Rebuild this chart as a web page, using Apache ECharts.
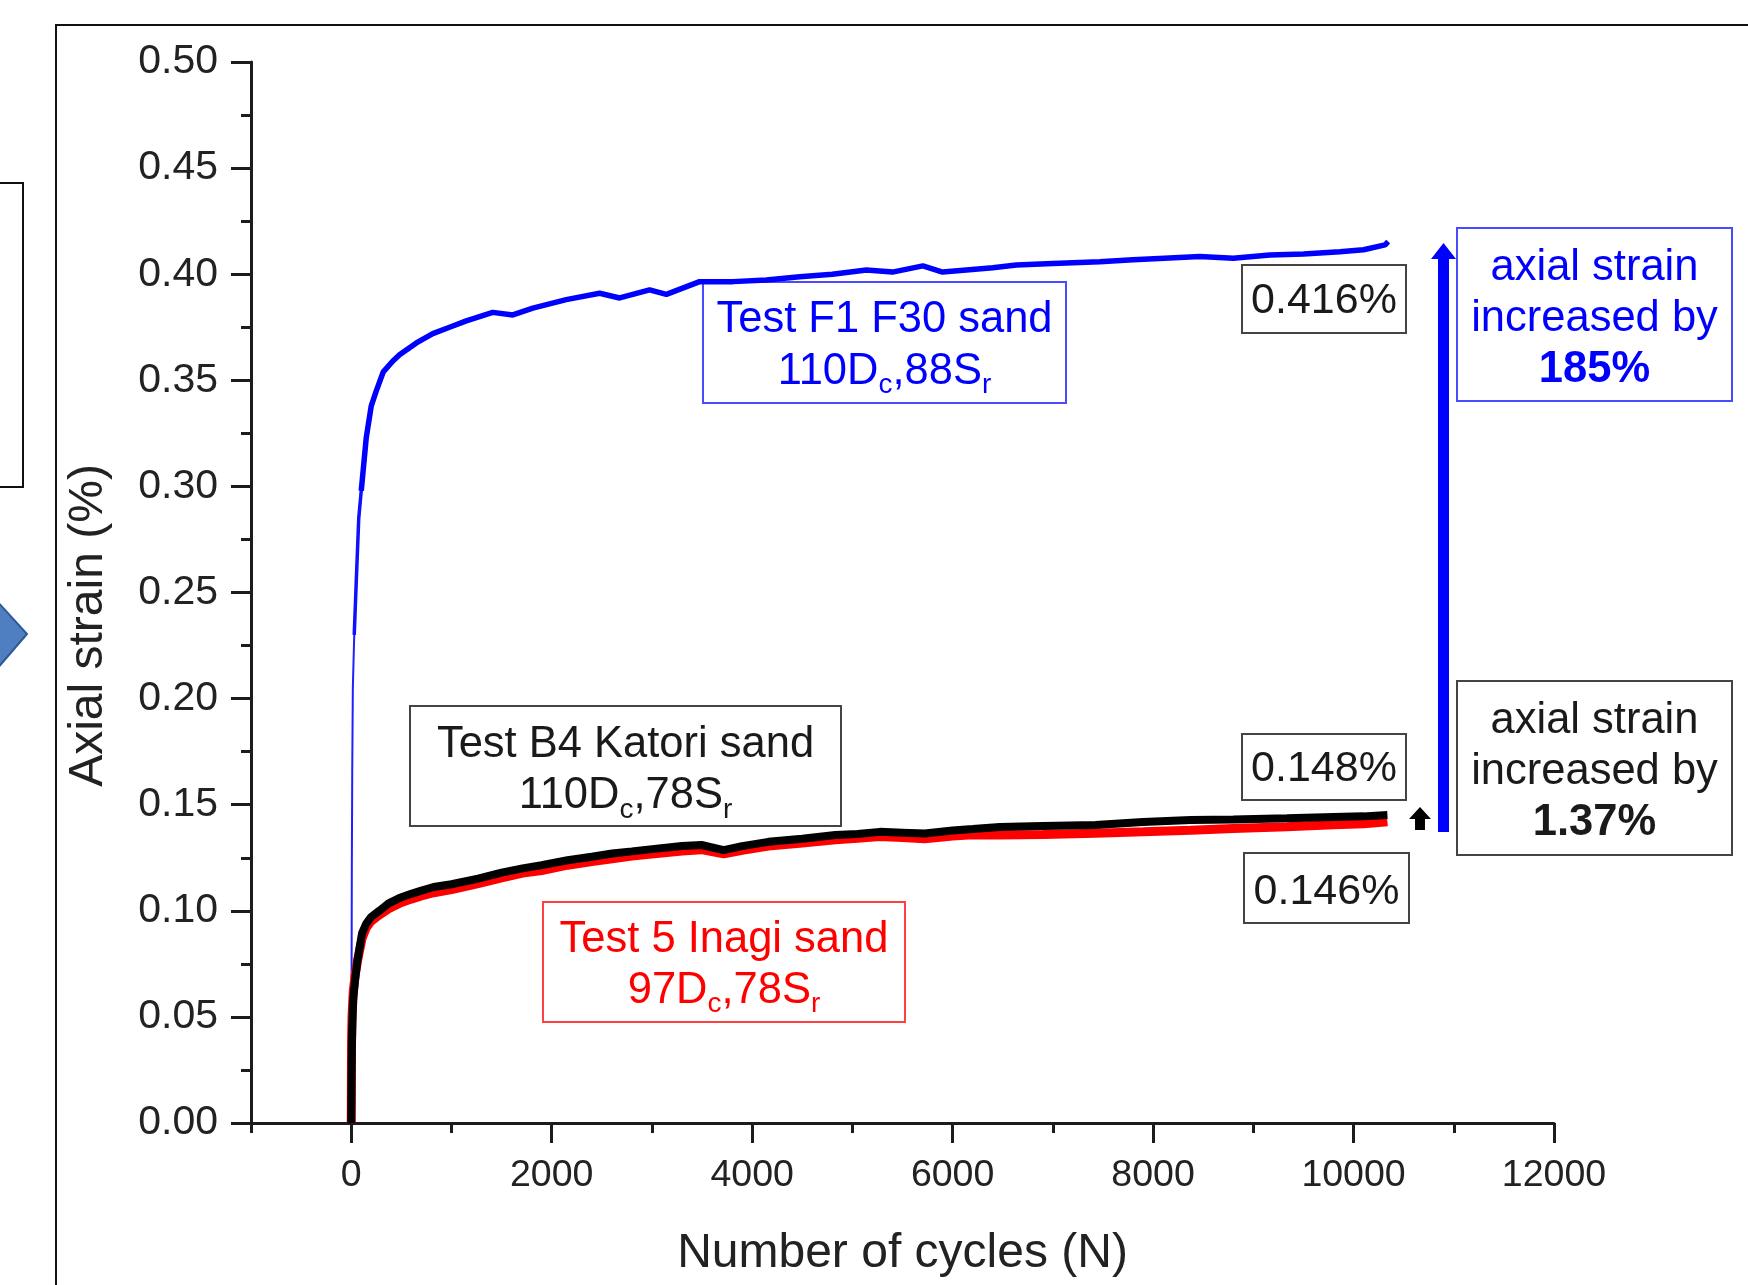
<!DOCTYPE html>
<html>
<head>
<meta charset="utf-8">
<script src="https://cdn.jsdelivr.net/npm/echarts@6/dist/echarts.min.js"></script>
<style>
html,body{margin:0;padding:0;background:#fff;}
#chart{width:1748px;height:1285px;}
</style>
</head>
<body>
<div id="chart"></div>
<script>
// ---------- data ----------
const xTickValues = [0, 2000, 4000, 6000, 8000, 10000, 12000];
const xMinorTickValues = [-1000, 1000, 3000, 5000, 7000, 9000, 11000];
const yMin = 0, yMax = 0.5, yStep = 0.05;
const xMin = -1000, xMax = 12000;

// Test F1 F30 sand (blue)
const f30Cycles = [0, 3, 6, 10, 16, 30, 50, 75, 100, 150, 200, 250, 320, 413, 482, 650, 814, 981, 1148, 1412, 1612, 1812, 2145, 2478, 2678, 2977, 3144, 3476, 3808, 4142, 4474, 4800, 5140, 5400, 5703, 5900, 6138, 6400, 6637, 7000, 7468, 7800, 8061, 8466, 8800, 9165, 9500, 9863, 10100, 10315, 10345];
const f30Strain = [0, 0.06, 0.12, 0.165, 0.205, 0.23, 0.255, 0.285, 0.298, 0.323, 0.338, 0.345, 0.354, 0.359, 0.362, 0.3676, 0.372, 0.375, 0.378, 0.382, 0.3808, 0.384, 0.388, 0.391, 0.3888, 0.3926, 0.3905, 0.3965, 0.3965, 0.3973, 0.3988, 0.400, 0.402, 0.401, 0.4039, 0.401, 0.402, 0.403, 0.4043, 0.405, 0.4059, 0.4068, 0.4074, 0.4083, 0.4075, 0.409, 0.4095, 0.4106, 0.4115, 0.4138, 0.4153];

// Test B4 Katori sand (black)
const katoriCycles = [0, 5, 10, 19, 40, 63, 108, 150, 197, 280, 373, 480, 598, 700, 822, 1000, 1266, 1500, 1710, 1900, 2158, 2400, 2603, 2800, 3048, 3300, 3494, 3716, 3900, 4162, 4500, 4830, 5050, 5274, 5500, 5722, 6000, 6200, 6470, 6900, 7425, 7900, 8377, 8800, 9335, 9800, 10100, 10338];
const katoriStrain = [0, 0.03, 0.045, 0.058, 0.068, 0.0768, 0.0895, 0.094, 0.097, 0.100, 0.1035, 0.106, 0.108, 0.1095, 0.1112, 0.1125, 0.1152, 0.118, 0.120, 0.1215, 0.1238, 0.1255, 0.127, 0.128, 0.1293, 0.1305, 0.131, 0.1286, 0.1305, 0.1325, 0.134, 0.1357, 0.1362, 0.1372, 0.1368, 0.1364, 0.1378, 0.1385, 0.1395, 0.140, 0.1404, 0.1418, 0.1428, 0.143, 0.1436, 0.1442, 0.1445, 0.1451];

// Test 5 Inagi sand (red)
const inagiCycles = [0, 3, 8, 20, 40, 63, 108, 150, 197, 280, 373, 480, 598, 700, 822, 1000, 1266, 1500, 1710, 1900, 2158, 2400, 2603, 2800, 3048, 3300, 3494, 3716, 3900, 4162, 4500, 4830, 5050, 5274, 5500, 5722, 6000, 6200, 6470, 6900, 7425, 7900, 8377, 8800, 9335, 9800, 10100, 10338];
const inagiStrain = [0, 0.038, 0.05, 0.062, 0.07, 0.0765, 0.087, 0.092, 0.095, 0.098, 0.101, 0.1035, 0.1055, 0.107, 0.1085, 0.110, 0.1128, 0.1155, 0.1178, 0.119, 0.1215, 0.1232, 0.1245, 0.1258, 0.127, 0.1282, 0.1288, 0.1268, 0.1285, 0.1305, 0.132, 0.1335, 0.1342, 0.135, 0.1345, 0.134, 0.1352, 0.1358, 0.1357, 0.136, 0.1366, 0.1372, 0.138, 0.1388, 0.1396, 0.1405, 0.141, 0.142];

// ---------- build ----------
const FONT = '"Liberation Sans", Arial, Helvetica, sans-serif';
const pairs = (xs, ys) => xs.map((x, i) => [x, ys[i]]);
const f30Data = pairs(f30Cycles, f30Strain);
const f30Mid = f30Data.filter(d => d[0] >= 30);
const f30Thick = f30Data.filter(d => d[0] >= 100);
const katoriData = pairs(katoriCycles, katoriStrain);
const inagiData = pairs(inagiCycles, inagiStrain);

const AXIS_COLOR = '#1c1c1c';

function richFor(fs) {
  return {
    sub: { fontSize: 28, fontFamily: FONT, lineHeight: 20, padding: [28, 0, 0, 0] },
    b: { fontSize: fs, fontFamily: FONT, fontWeight: 'bold', lineHeight: 51 }
  };
}

function box(x, y, w, h, stroke, text, tx, ty, color, lh, fs) {
  const size = fs || 43.5;
  return {
    type: 'group',
    children: [
      { type: 'rect', shape: { x: x, y: y, width: w, height: h },
        style: { fill: null, stroke: stroke, lineWidth: 2 } },
      { type: 'text', x: tx, y: ty,
        style: { text: text, fontSize: size, fontFamily: FONT, fill: color,
                 align: 'center', verticalAlign: 'middle', lineHeight: lh || 51,
                 rich: richFor(size) } }
    ]
  };
}

const chart = echarts.init(document.getElementById('chart'), null, { renderer: 'canvas' });

const option = {
  animation: false,
  backgroundColor: '#fff',
  grid: { left: 251, top: 62, width: 1303, height: 1061, containLabel: false, outerBoundsMode: 'none' },
  xAxis: [
    {
      type: 'value', min: xMin, max: xMax, position: 'bottom',
      axisLine: { show: true, onZero: false, lineStyle: { color: AXIS_COLOR, width: 3 } },
      axisTick: { show: true, length: 20, inside: false, customValues: xTickValues,
                  lineStyle: { color: AXIS_COLOR, width: 3 } },
      axisLabel: { show: true, customValues: xTickValues, margin: 34, fontSize: 37.5,
                   fontFamily: FONT, color: '#222', formatter: v => String(v) },
      splitLine: { show: false },
      name: 'Number of cycles (N)', nameLocation: 'middle', nameGap: 107,
      nameTextStyle: { fontSize: 48, fontFamily: FONT, color: '#222' }
    },
    {
      type: 'value', min: xMin, max: xMax, position: 'bottom', gridIndex: 0,
      axisLine: { show: false, onZero: false },
      axisTick: { show: true, length: 10, customValues: xMinorTickValues,
                  lineStyle: { color: AXIS_COLOR, width: 3 } },
      axisLabel: { show: false },
      splitLine: { show: false }
    }
  ],
  yAxis: {
    type: 'value', min: yMin, max: yMax, interval: yStep,
    axisLine: { show: true, onZero: false, lineStyle: { color: AXIS_COLOR, width: 3 } },
    axisTick: { show: true, length: 20, lineStyle: { color: AXIS_COLOR, width: 3 } },
    minorTick: { show: true, splitNumber: 2, length: 10, lineStyle: { color: AXIS_COLOR, width: 3 } },
    axisLabel: { margin: 33, fontSize: 41, fontFamily: FONT, color: '#222',
                 formatter: v => v.toFixed(2) },
    splitLine: { show: false },
    minorSplitLine: { show: false },
    name: 'Axial strain (%)', nameLocation: 'middle', nameGap: 138,
    nameTextStyle: { fontSize: 48, fontFamily: FONT, color: '#222', padding: [0, 66, 0, 0] }
  },
  series: [
    { name: 'F30 rise', type: 'line', data: f30Data, showSymbol: false, xAxisIndex: 0,
      lineStyle: { color: '#2020ff', width: 2 }, z: 3 },
    { name: 'F30 knee', type: 'line', data: f30Mid, showSymbol: false, xAxisIndex: 0,
      lineStyle: { color: '#1010ff', width: 3.5 }, z: 3 },
    { name: 'Test F1 F30 sand', type: 'line', data: f30Thick, showSymbol: false, xAxisIndex: 0,
      lineStyle: { color: '#0000ff', width: 5.5 }, z: 3 },
    { name: 'Test 5 Inagi sand', type: 'line', data: inagiData, showSymbol: false, xAxisIndex: 0,
      lineStyle: { color: '#ff0000', width: 9 }, z: 4 },
    { name: 'Test B4 Katori sand', type: 'line', data: katoriData, showSymbol: false, xAxisIndex: 0,
      lineStyle: { color: '#000000', width: 8 }, z: 5 }
  ],
  graphic: [
    // outer frame and left-side fragments of the slide
    { type: 'polyline', shape: { points: [[56, 1290], [56, 25], [1760, 25]] },
      style: { stroke: '#111', lineWidth: 2, fill: null } },
    { type: 'rect', shape: { x: -10, y: 183, width: 33, height: 304 },
      style: { stroke: '#111', lineWidth: 2, fill: null } },
    { type: 'polygon', shape: { points: [[-4, 600], [27, 634], [-4, 670]] },
      style: { fill: '#4f7fc0', stroke: '#2d5a94', lineWidth: 2 } },

    // annotation boxes
    box(703, 282, 363, 121, '#4a4aff', 'Test F1 F30 sand\n110D{sub|c},88S{sub|r}', 884.5, 346, '#0000ff', 51.5),
    box(410, 706, 431, 120, '#444', 'Test B4 Katori sand\n110D{sub|c},78S{sub|r}', 625.5, 770.5, '#1a1a1a', 51),
    box(543, 902, 362, 120, '#ff4040', 'Test 5 Inagi sand\n97D{sub|c},78S{sub|r}', 724, 965, '#ff0000', 51),

    box(1242, 265, 164, 68, '#444', '0.416%', 1324, 301, '#1a1a1a', 51, 43),
    box(1242, 734, 164, 66, '#444', '0.148%', 1324, 769, '#1a1a1a', 51, 43),
    box(1244, 853, 165, 70, '#444', '0.146%', 1326.5, 892, '#1a1a1a', 51, 43),

    box(1457, 228, 275, 173, '#4a4aff', 'axial strain\nincreased by\n{b|185%}', 1594.5, 318.5, '#0000ff', 51),
    box(1457, 681, 275, 174, '#444', 'axial strain\nincreased by\n{b|1.37%}', 1594.5, 772, '#1a1a1a', 51),

    // big blue arrow
    { type: 'rect', shape: { x: 1438, y: 256, width: 11, height: 576 }, style: { fill: '#0000ff' } },
    { type: 'polygon', shape: { points: [[1431, 259], [1443.5, 243], [1456, 259]] }, style: { fill: '#0000ff' } },
    // small black arrow
    { type: 'polygon', shape: { points: [[1409, 819], [1420, 807], [1431, 819]] }, style: { fill: '#000' } },
    { type: 'rect', shape: { x: 1415, y: 818, width: 10, height: 12 }, style: { fill: '#000' } }
  ]
};

chart.setOption(option);
</script>
</body>
</html>
